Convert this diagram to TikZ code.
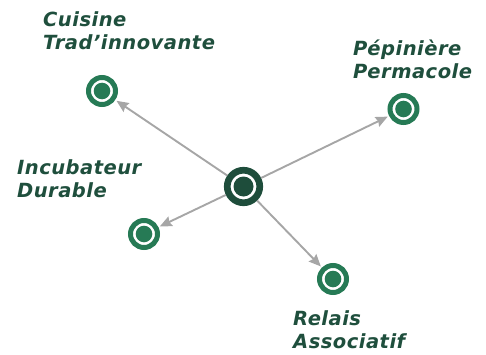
\documentclass[tikz,border=0pt]{standalone}
\usepackage{fontspec}
\setmainfont{DejaVu Sans}
\newfontfamily\lblfont[LetterSpace=2.5]{DejaVu Sans}
\usetikzlibrary{arrows.meta}
\definecolor{darkgreen}{HTML}{1E4D3B}
\definecolor{midgreen}{HTML}{267A55}
\definecolor{textgreen}{HTML}{1F4F3D}
\definecolor{arrowgray}{HTML}{A6A6A6}
\tikzset{
  leaf/.style={circle, draw=midgreen, line width=5pt, fill=white, minimum size=27pt, inner sep=0pt,
    path picture={\fill[midgreen] (path picture bounding box.center) circle (8.3pt);}},
  hub/.style={circle, draw=darkgreen, line width=6.7pt, fill=white, minimum size=32.5pt, inner sep=0pt,
    path picture={\fill[darkgreen] (path picture bounding box.center) circle (10pt);}},
  lbl/.style={anchor=base west, align=left, inner sep=0pt, text=textgreen,
    font=\lblfont\fontsize{19.5}{23}\selectfont\bfseries\itshape},
  link/.style={draw=arrowgray, line width=1.9pt, -{Stealth[length=12pt,width=10.5pt,inset=1.5pt]}, shorten >=1.5pt}
}
\begin{document}
\begin{tikzpicture}[x=1pt,y=1pt]
\useasboundingbox (0,0) rectangle (486,354);
\node[hub] (c) at (243.5,167.5) {};
\node[leaf] (cuisine) at (102,263) {};
\node[leaf] (pepi) at (403.5,245) {};
\node[leaf] (incub) at (144,120) {};
\node[leaf] (relais) at (333,75) {};
\draw[link] (c) -- (cuisine);
\draw[link] (c) -- (pepi);
\draw[link] (c) -- (incub);
\draw[link] (c) -- (relais);
\node[lbl] (tcuisine) at (43,304) {Cuisine\\Trad’innovante};
\node[lbl] (tpepi) at (353,275) {Pépinière\\Permacole};
\node[lbl] (tincub) at (17,157) {Incubateur\\Durable};
\node[lbl] (trelais) at (293,6) {Relais\\Associatif};
\end{tikzpicture}
\end{document}
